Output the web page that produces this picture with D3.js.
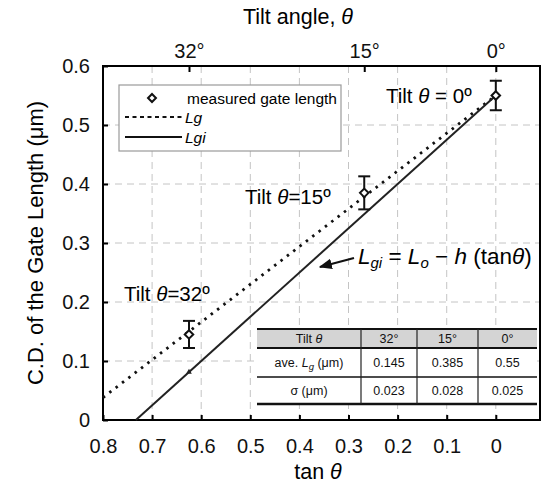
<!DOCTYPE html>
<html>
<head>
<meta charset="utf-8">
<script src="https://cdn.jsdelivr.net/npm/d3@7"></script>
<style>
  body { margin: 0; background: #fff; }
  svg { font-family: "Liberation Sans", Arial, sans-serif; }
</style>
</head>
<body>
<div id="chart"></div>
<script>
// data
var tiltAngles = [32, 15, 0];
var tiltLabels = ['32°', '15°', '0°'];
var aveLg = [0.145, 0.385, 0.55];
var sigmaLg = [0.023, 0.028, 0.025];
var aveLgText = ['0.145', '0.385', '0.55'];
var sigmaText = ['0.023', '0.028', '0.025'];

// fitted lines (tan theta, CD)
var lgLine = [[0.8, 0.038], [0, 0.55]];
var lgiLine = [[0.733, 0], [0, 0.55]];

var xTicks = [0.8, 0.7, 0.6, 0.5, 0.4, 0.3, 0.2, 0.1, 0];
var yTicks = [0, 0.1, 0.2, 0.3, 0.4, 0.5, 0.6];

var width = 549, height = 485;
// note: "top" is reserved on window, so plot edges get a prefix
var plotLeft = 103, plotRight = 540, plotTop = 66, plotBottom = 420;

var tanOf = function (deg) { return Math.tan(deg * Math.PI / 180); };

var x = d3.scaleLinear().domain([0.8, -0.09]).range([plotLeft, plotRight]);
var y = d3.scaleLinear().domain([0, 0.6]).range([plotBottom, plotTop]);

var svg = d3.select('#chart').append('svg')
    .attr('width', width)
    .attr('height', height);

// grid
var grid = svg.append('g').attr('class', 'grid')
    .attr('stroke', '#c4c4c4')
    .attr('stroke-width', 1)
    .attr('stroke-dasharray', '7,5');

grid.selectAll('line.v')
    .data(xTicks.slice(1))
    .enter().append('line')
    .attr('class', 'v')
    .attr('x1', function (d) { return x(d); })
    .attr('x2', function (d) { return x(d); })
    .attr('y1', plotTop)
    .attr('y2', plotBottom);

grid.selectAll('line.h')
    .data(yTicks.slice(1, -1))
    .enter().append('line')
    .attr('class', 'h')
    .attr('x1', plotLeft)
    .attr('x2', plotRight)
    .attr('y1', function (d) { return y(d); })
    .attr('y2', function (d) { return y(d); });

// axes
var xAxis = svg.append('g')
    .attr('transform', 'translate(0,' + plotBottom + ')')
    .call(d3.axisBottom(x).tickValues(xTicks).tickFormat(d3.format('')).tickSizeInner(-5).tickSizeOuter(0).tickPadding(19));

var yAxis = svg.append('g')
    .attr('transform', 'translate(' + plotLeft + ',0)')
    .call(d3.axisLeft(y).tickValues(yTicks).tickFormat(d3.format('')).tickSizeInner(-5).tickSizeOuter(0).tickPadding(13));

var topAxis = svg.append('g')
    .attr('transform', 'translate(0,' + plotTop + ')')
    .call(d3.axisTop(x).tickValues(tiltAngles.map(tanOf))
        .tickFormat(function (d, i) { return tiltLabels[i]; })
        .tickSizeInner(-6).tickSizeOuter(0).tickPadding(8));

[xAxis, yAxis, topAxis].forEach(function (a) {
    a.select('.domain').remove();
    a.selectAll('.tick line').attr('stroke', '#000').attr('stroke-width', 2);
    a.selectAll('.tick text').attr('font-size', 20).attr('fill', '#111')
        .attr('font-family', '"Liberation Sans", Arial, sans-serif');
});

// frame
svg.append('rect')
    .attr('x', plotLeft).attr('y', plotTop)
    .attr('width', plotRight - plotLeft).attr('height', plotBottom - plotTop)
    .attr('fill', 'none')
    .attr('stroke', '#000')
    .attr('stroke-width', 2);

// axis titles
svg.append('text')
    .attr('x', 298).attr('y', 24)
    .attr('text-anchor', 'middle')
    .attr('font-size', 21.5)
    .html('Tilt angle, <tspan font-style="italic">θ</tspan>');

svg.append('text')
    .attr('x', 318).attr('y', 479)
    .attr('text-anchor', 'middle')
    .attr('font-size', 21.5)
    .html('tan <tspan font-style="italic">θ</tspan>');

svg.append('text')
    .attr('transform', 'translate(43,' + ((plotTop + plotBottom) / 2) + ') rotate(-90)')
    .attr('text-anchor', 'middle')
    .attr('font-size', 22)
    .text('C.D. of the Gate Length (μm)');

// fitted lines
var line = d3.line()
    .x(function (d) { return x(d[0]); })
    .y(function (d) { return y(d[1]); });

svg.append('path')
    .datum(lgLine)
    .attr('d', line)
    .attr('fill', 'none')
    .attr('stroke', '#111')
    .attr('stroke-width', 2.8)
    .attr('stroke-dasharray', '2.5,5.5');

svg.append('path')
    .datum(lgiLine)
    .attr('d', line)
    .attr('fill', 'none')
    .attr('stroke', '#222')
    .attr('stroke-width', 2);

// small marker where Lgi meets the 32° tilt
var lgiAt = function (t) {
    var a = lgiLine[0], b = lgiLine[1];
    return a[1] + (t - a[0]) * (b[1] - a[1]) / (b[0] - a[0]);
};
svg.append('path')
    .attr('d', d3.symbol().type(d3.symbolTriangle).size(14))
    .attr('transform', 'translate(' + x(tanOf(tiltAngles[0])) + ',' + y(lgiAt(tanOf(tiltAngles[0]))) + ')')
    .attr('fill', '#222');

// error bars and diamonds
var points = tiltAngles.map(function (a, i) {
    return { t: tanOf(a), v: aveLg[i], s: sigmaLg[i] };
});

var err = svg.append('g').attr('stroke', '#111').attr('stroke-width', 2);
points.forEach(function (p) {
    var cx = x(p.t);
    err.append('line').attr('x1', cx).attr('x2', cx).attr('y1', y(p.v + p.s)).attr('y2', y(p.v - p.s));
    err.append('line').attr('x1', cx - 6).attr('x2', cx + 6).attr('y1', y(p.v + p.s)).attr('y2', y(p.v + p.s));
    err.append('line').attr('x1', cx - 6).attr('x2', cx + 6).attr('y1', y(p.v - p.s)).attr('y2', y(p.v - p.s));
});

svg.selectAll('path.diamond')
    .data(points)
    .enter().append('path')
    .attr('class', 'diamond')
    .attr('d', d3.symbol().type(d3.symbolDiamond2).size(46))
    .attr('transform', function (d) { return 'translate(' + x(d.t) + ',' + y(d.v) + ')'; })
    .attr('fill', '#fff')
    .attr('stroke', '#111')
    .attr('stroke-width', 2);

// legend
var lg = svg.append('g');
lg.append('rect')
    .attr('x', 119).attr('y', 85)
    .attr('width', 222).attr('height', 66)
    .attr('fill', '#fff')
    .attr('stroke', '#9a9a9a')
    .attr('stroke-width', 1.2);
lg.append('path')
    .attr('d', d3.symbol().type(d3.symbolDiamond2).size(40))
    .attr('transform', 'translate(152,98)')
    .attr('fill', '#fff').attr('stroke', '#111').attr('stroke-width', 2);
lg.append('text').attr('x', 187).attr('y', 103.5).attr('font-size', 15.5).text('measured gate length');
lg.append('line')
    .attr('x1', 125).attr('x2', 182).attr('y1', 117).attr('y2', 117)
    .attr('stroke', '#111').attr('stroke-width', 2).attr('stroke-dasharray', '4,3.5');
lg.append('text').attr('x', 185).attr('y', 122.5).attr('font-size', 15.5).attr('font-style', 'italic').text('Lg');
lg.append('line')
    .attr('x1', 125).attr('x2', 182).attr('y1', 137).attr('y2', 137)
    .attr('stroke', '#111').attr('stroke-width', 2);
lg.append('text').attr('x', 185).attr('y', 142.5).attr('font-size', 15.5).attr('font-style', 'italic').text('Lgi');

// annotations
var ann = [
    { x: 386, y: 103, t: '0º', sp: ' = ' },
    { x: 245, y: 204, t: '15º', sp: '=' },
    { x: 124, y: 301, t: '32º', sp: '=' }
];
ann.forEach(function (a) {
    svg.append('text')
        .attr('x', a.x).attr('y', a.y)
        .attr('font-size', 20.5)
        .html('Tilt <tspan font-style="italic">θ</tspan>' + a.sp + a.t);
});

// equation with arrow
svg.append('defs').append('marker')
    .attr('id', 'arr')
    .attr('viewBox', '0 0 10 10')
    .attr('refX', 9).attr('refY', 5)
    .attr('markerWidth', 6).attr('markerHeight', 6)
    .attr('orient', 'auto')
    .append('path').attr('d', 'M0,1 L10,5 L0,9 Z').attr('fill', '#111');

svg.append('line')
    .attr('x1', 354).attr('y1', 258)
    .attr('x2', 320).attr('y2', 267)
    .attr('stroke', '#111').attr('stroke-width', 2.2)
    .attr('marker-end', 'url(#arr)');

svg.append('text')
    .attr('x', 358).attr('y', 264)
    .attr('font-size', 22.5)
    .attr('font-style', 'italic')
    .html('L<tspan font-size="15" dy="4">gi</tspan><tspan dy="-4" font-style="normal"> = </tspan>L<tspan font-size="15" dy="4">o</tspan><tspan dy="-4" font-style="normal"> − </tspan>h<tspan font-style="normal"> (tan</tspan>θ<tspan font-style="normal">)</tspan>');

// table
var tblLeft = 257, tblRight = 537;
var colEdges = [tblLeft, 361, 417, 478, tblRight];
var rowEdges = [329, 348, 377, 404];
var tbl = svg.append('g').attr('font-size', 12.5).attr('fill', '#111');

tbl.append('rect')
    .attr('x', tblLeft).attr('y', rowEdges[0])
    .attr('width', tblRight - tblLeft).attr('height', rowEdges[3] - rowEdges[0])
    .attr('fill', '#fff');
tbl.append('rect')
    .attr('x', tblLeft).attr('y', rowEdges[0])
    .attr('width', tblRight - tblLeft).attr('height', rowEdges[1] - rowEdges[0])
    .attr('fill', '#d4d4d4');

var rows = [
    ['Tilt <tspan font-style="italic">θ</tspan>'].concat(tiltLabels),
    ['ave. <tspan font-style="italic">L</tspan><tspan font-style="italic" font-size="9.5" dy="3">g</tspan><tspan dy="-3"> (μm)</tspan>'].concat(aveLgText),
    ['σ (μm)'].concat(sigmaText)
];
rows.forEach(function (r, ri) {
    r.forEach(function (cell, ci) {
        tbl.append('text')
            .attr('x', (colEdges[ci] + colEdges[ci + 1]) / 2)
            .attr('y', (rowEdges[ri] + rowEdges[ri + 1]) / 2 + 4.5)
            .attr('text-anchor', 'middle')
            .html(cell);
    });
});

[[0, 2], [1, 2], [2, 1.5], [3, 2.5]].forEach(function (h) {
    tbl.append('line')
        .attr('x1', tblLeft).attr('x2', tblRight)
        .attr('y1', rowEdges[h[0]]).attr('y2', rowEdges[h[0]])
        .attr('stroke', '#111').attr('stroke-width', h[1]);
});
colEdges.slice(1, -1).forEach(function (cx) {
    tbl.append('line')
        .attr('x1', cx).attr('x2', cx)
        .attr('y1', rowEdges[0]).attr('y2', rowEdges[3])
        .attr('stroke', '#222').attr('stroke-width', 1.2);
});
</script>
</body>
</html>
